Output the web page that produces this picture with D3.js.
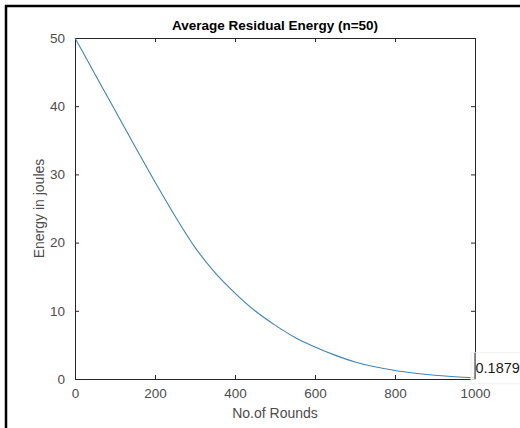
<!DOCTYPE html>
<html>
<head>
<meta charset="utf-8">
<script src="https://cdn.jsdelivr.net/npm/d3@7"></script>
<style>
  body { margin: 0; background: #fff; overflow: hidden; }
  svg { display: block; font-family: "Liberation Sans", Arial, sans-serif; }
</style>
</head>
<body>
<script>
'use strict'

// data
var rounds = [0, 50, 100, 150, 200, 250, 300, 350, 400, 450, 500, 550, 600, 650, 700, 750, 800, 850, 900, 950, 1000];
var energy = [50, 44.7, 39.4, 34.1, 28.9, 23.9, 19.3, 15.6, 12.6, 10.0, 7.9, 6.1, 4.7, 3.5, 2.5, 1.8, 1.25, 0.85, 0.55, 0.33, 0.1879];
var xTicks = [0, 200, 400, 600, 800, 1000];
var yTicks = [0, 10, 20, 30, 40, 50];
var tipLabel = "0.1879";

var W = 520, H = 428;
var box = {left: 75, right: 475, top: 38, bottom: 379};

var svg = d3.select("body").append("svg")
  .attr("width", W)
  .attr("height", H);

// figure frame (thick black edge top/left)
svg.append("rect")
  .attr("x", 6).attr("y", 6)
  .attr("width", W + 20).attr("height", H + 20)
  .attr("fill", "none")
  .attr("stroke", "#000")
  .attr("stroke-width", 2.5);

var x = d3.scaleLinear().domain([0, 1000]).range([box.left, box.right]);
var y = d3.scaleLinear().domain([0, 50]).range([box.bottom, box.top]);

var tickCol = "#4d4d4d", axisCol = "#262626";

// axes, ticks pointing inward like matlab
var gx = svg.append("g")
  .attr("transform", "translate(0," + box.bottom + ")")
  .call(d3.axisBottom(x).tickValues(xTicks).tickFormat(d3.format("d"))
    .tickSizeInner(-4).tickSizeOuter(0).tickPadding(9));
var gxTop = svg.append("g")
  .attr("transform", "translate(0," + box.top + ")")
  .call(d3.axisTop(x).tickValues(xTicks).tickSizeInner(-4).tickSizeOuter(0).tickFormat(""));
var gy = svg.append("g")
  .attr("transform", "translate(" + box.left + ",0)")
  .call(d3.axisLeft(y).tickValues(yTicks).tickSizeInner(-4).tickSizeOuter(0).tickPadding(10));
var gyR = svg.append("g")
  .attr("transform", "translate(" + box.right + ",0)")
  .call(d3.axisRight(y).tickValues(yTicks).tickSizeInner(-4).tickSizeOuter(0).tickFormat(""));

[gx, gxTop, gy, gyR].forEach(function (g) {
  g.selectAll("path.domain").attr("stroke", axisCol).attr("stroke-width", 1);
  g.selectAll(".tick line").attr("stroke", axisCol);
  g.selectAll(".tick text")
    .attr("fill", tickCol)
    .style("font-size", "13.5px")
    .style("font-family", "Liberation Sans, Arial, sans-serif");
});

// curve
var line = d3.line()
  .x(function (d, i) { return x(rounds[i]); })
  .y(function (d) { return y(d); })
  .curve(d3.curveMonotoneX);

svg.append("path")
  .datum(energy)
  .attr("d", line)
  .attr("fill", "none")
  .attr("stroke", "#3f84b8")
  .attr("stroke-width", 1.1);

// data tip at last point
var lastX = x(rounds[rounds.length - 1]), lastY = y(energy[energy.length - 1]);
svg.append("rect")
  .attr("x", lastX - 4).attr("y", lastY - 25)
  .attr("width", 70).attr("height", 31)
  .attr("fill", "#fff").attr("fill-opacity", 0.8)
  .attr("stroke", "#f0f0f0");
svg.append("text")
  .attr("x", lastX + 0.5).attr("y", lastY - 5)
  .attr("fill", "#1a1a1a")
  .style("font-size", "14.5px")
  .text(tipLabel);
// redraw right axis edge over the tip box
svg.append("line")
  .attr("x1", box.right).attr("x2", box.right)
  .attr("y1", lastY - 25).attr("y2", box.bottom)
  .attr("stroke", axisCol);

// title and labels
svg.append("text")
  .attr("x", (box.left + box.right) / 2).attr("y", 30)
  .attr("text-anchor", "middle")
  .attr("fill", "#000")
  .style("font-size", "13.5px").style("font-weight", "bold")
  .text("Average Residual Energy (n=50)");

svg.append("text")
  .attr("x", (box.left + box.right) / 2).attr("y", 418)
  .attr("text-anchor", "middle")
  .attr("fill", tickCol)
  .style("font-size", "14px")
  .text("No.of Rounds");

svg.append("text")
  .attr("transform", "translate(44," + ((box.top + box.bottom) / 2) + ") rotate(-90)")
  .attr("text-anchor", "middle")
  .attr("fill", tickCol)
  .style("font-size", "14px")
  .text("Energy in joules");
</script>
</body>
</html>
